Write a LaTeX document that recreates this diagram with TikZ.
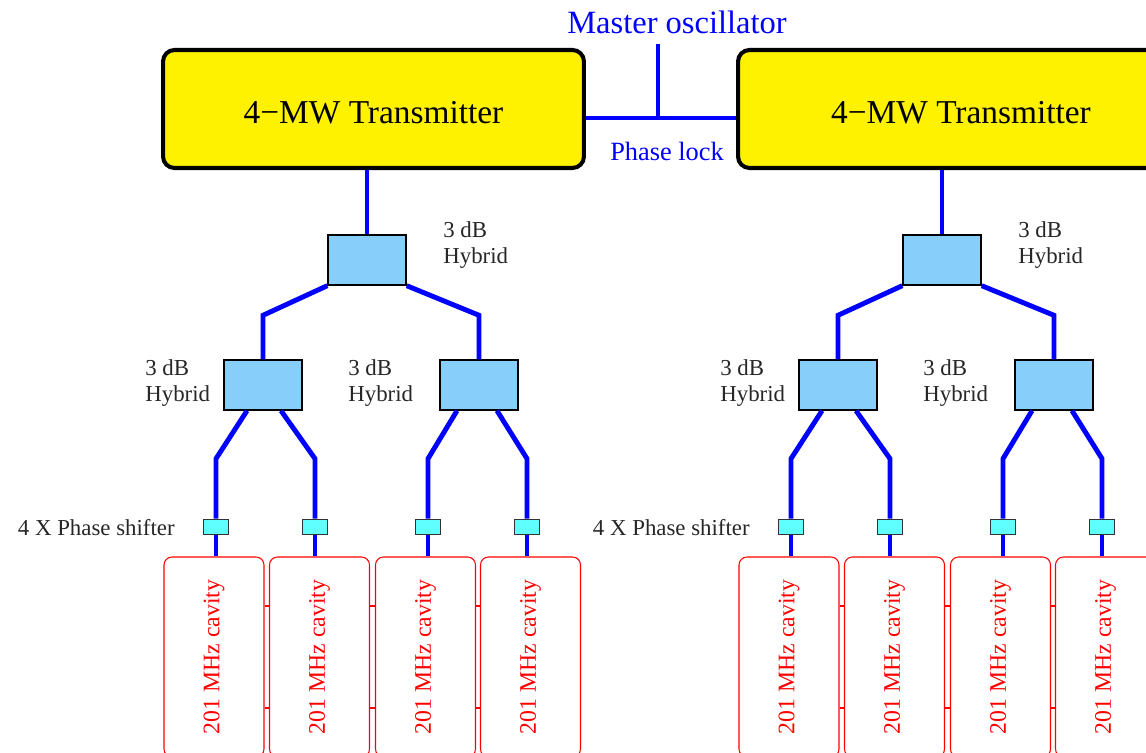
\documentclass[tikz,border=0pt]{standalone}
\usepackage{fontspec}
\setmainfont{Liberation Serif}
\usepackage{tikz}
\usetikzlibrary{positioning,calc}

\definecolor{hybblue}{RGB}{135,206,250}
\definecolor{shiftcyan}{RGB}{95,255,255}

\tikzset{
	wire/.style={blue,line width=2.8pt},
	txbox/.style={draw=black,line width=2.3pt,fill=yellow,rounded corners=6.5pt,
		minimum height=2.36cm,inner sep=0pt,text height=17pt,text depth=0pt,
		font=\fontsize{19}{22}\selectfont},
	hybrid/.style={draw=black,line width=0.8pt,fill=hybblue,
		minimum width=1.56cm,minimum height=1cm,inner sep=0pt},
	shifter/.style={draw=black!80,line width=0.9pt,fill=shiftcyan,
		minimum width=0.5cm,minimum height=0.3cm,inner sep=0pt},
	cavity/.style={draw=red,line width=0.6pt,rounded corners=4.5pt,
		minimum width=2cm,minimum height=4cm,inner sep=0pt,
		text=red,font=\fontsize{13.5}{16}\selectfont},
	hyblabel/.style={align=left,anchor=west,inner sep=0pt,text=black!85,
		font=\fontsize{13}{14.8}\selectfont}
}

\begin{document}
\begin{tikzpicture}[x=0.02cm,y=-0.02cm]
		
		\useasboundingbox (0,0) rectangle (1146,753);
		\clip (0,0) rectangle (1146,753);
		
		\foreach \dx/\cx/\tw/\s in {0/373.5/8.42/a,575/386/8.92/b}{
		\begin{scope}[xshift=\dx*0.02cm]
			
			\node[txbox,minimum width=\tw cm] (tx\s) at (\cx,109) {4−MW Transmitter};
			
			\node[hybrid] (top\s) at (367,260) {};
			\node[hybrid] (hl\s) at (263,385) {};
			\node[hybrid] (hr\s) at (479,385) {};
			
			\foreach \px/\cvx/\k in {216/214/1,315/319.5/2,428/425.5/3,527/530.5/4}{
				\node[shifter] (ps\s\k) at (\px,527) {};
				\node[cavity] (cav\s\k) at (\cvx,657) {\rotatebox{90}{201 MHz cavity}};
			}
			
			\draw[wire] (top\s.north) -- (top\s.north |- tx\s.south);
			\draw[wire] (hl\s.north) -- ++(0,-44) -- (top\s.south west);
			\draw[wire] (hr\s.north) -- ++(0,-44) -- (top\s.south east);
			
			\draw[wire] (ps\s1.north) -- ++(0,-60) -- ($(hl\s.south)+(-16,0)$);
			\draw[wire] (ps\s2.north) -- ++(0,-60) -- ($(hl\s.south)+(18,0)$);
			\draw[wire] (ps\s3.north) -- ++(0,-60) -- ($(hr\s.south)+(-22,0)$);
			\draw[wire] (ps\s4.north) -- ++(0,-60) -- ($(hr\s.south)+(18,0)$);
			
			\foreach \k in {1,...,4}
				\draw[wire] (ps\s\k.south) -- (ps\s\k.south |- cav\s\k.north);
			
			\foreach \k/\n in {1/2,2/3,3/4}{
				\draw[red,line width=0.6pt] (cav\s\k.east |- 0,606) -- (cav\s\n.west |- 0,606);
				\draw[red,line width=0.6pt] (cav\s\k.east |- 0,708) -- (cav\s\n.west |- 0,708);
			}
			
			\node[hyblabel] (lt\s) at (443,245) {3 dB\\Hybrid};
			\node[hyblabel] (ll\s) at (145,383) {3 dB\\Hybrid};
			\node[hyblabel] (lm\s) at (348,383) {3 dB\\Hybrid};
			\node[hyblabel,anchor=east] (lp\s) at (175,528) {4 X Phase shifter};
			
		\end{scope}
		}
		
		\node[blue,font=\fontsize{18.5}{22}\selectfont] (mo) at (677,22) {Master oscillator};
		\node[blue,font=\fontsize{15}{18}\selectfont] (pl) at (667,151) {Phase lock};
		
		\coordinate (tap) at (658,118);
		\coordinate (motap) at (658,44);
		\draw[wire,line width=2.3pt] (txa.east |- tap) -- (txb.west |- tap);
		\draw[wire,line width=2.3pt] (tap) -- (motap);
		
	\end{tikzpicture}
\end{document}
